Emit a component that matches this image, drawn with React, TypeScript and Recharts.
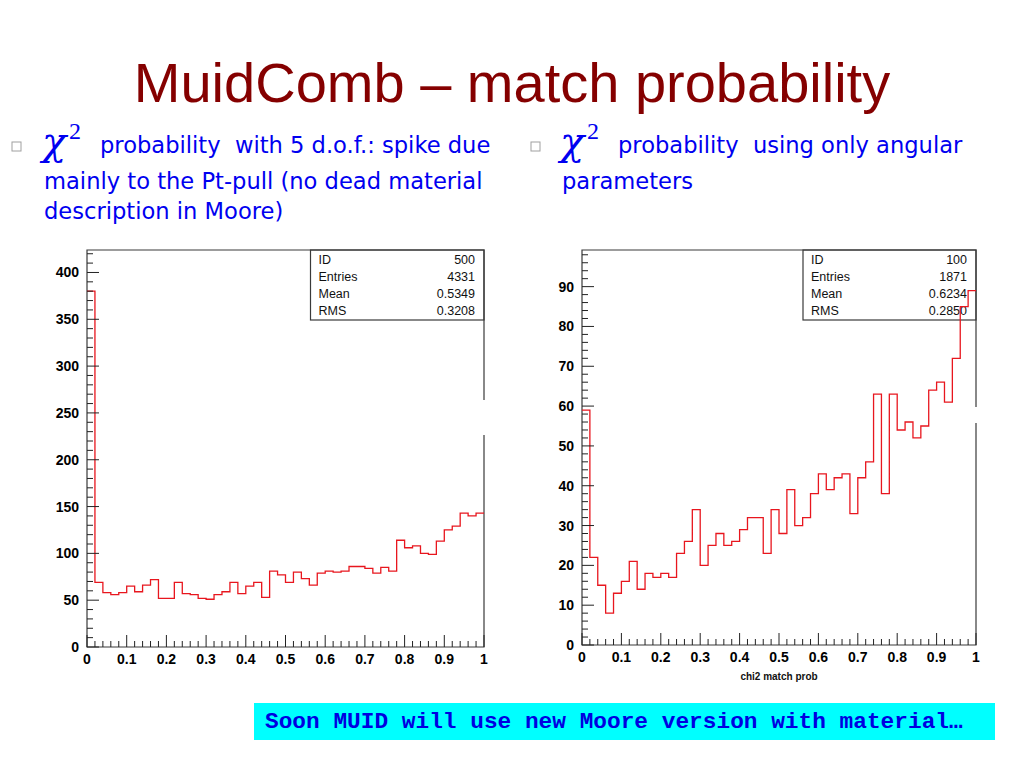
import React from 'react';
import { LineChart, Line, XAxis, YAxis, ReferenceArea } from 'recharts';

// 50 bins on [0, 1], counts
const leftCounts = [
  380, 69, 58, 56, 58, 65, 59, 66, 72, 52,
  52, 69, 57, 56, 52, 51, 56, 59, 69, 57,
  65, 69, 53, 81, 77, 69, 80, 73, 66, 79,
  81, 80, 81, 86, 86, 84, 79, 85, 81, 114,
  106, 108, 100, 99, 113, 125, 129, 143, 140, 143,
];
const rightCounts = [
  59, 22, 15, 8, 13, 16, 21, 14, 18, 17,
  18, 17, 23, 26, 34, 20, 25, 28, 25, 26,
  29, 32, 32, 23, 34, 28, 39, 30, 32, 38,
  43, 39, 42, 43, 33, 42, 46, 63, 38, 63,
  54, 56, 52, 55, 64, 66, 61, 72, 85, 89,
];

const xMajorTicks = [0, 0.1, 0.2, 0.3, 0.4, 0.5, 0.6, 0.7, 0.8, 0.9, 1];
const leftYMajor = [0, 50, 100, 150, 200, 250, 300, 350, 400];
const rightYMajor = [0, 10, 20, 30, 40, 50, 60, 70, 80, 90];

const leftStats = [
  ['ID', '500'],
  ['Entries', '4331'],
  ['Mean', '0.5349'],
  ['RMS', '0.3208'],
];
const rightStats = [
  ['ID', '100'],
  ['Entries', '1871'],
  ['Mean', '0.6234'],
  ['RMS', '0.2850'],
];

const RED = '#e8161e';
const FRAME = '#3a3a3a';
const AXIS_FONT = '"Liberation Sans", Arial, Helvetica, sans-serif';

const round = (v: number) => Math.round(v * 10000) / 10000;

// minor ticks: split every major interval into n parts, continue up to `top`
const withMinors = (majors: number[], n: number, top: number) => {
  const step = (majors[1] - majors[0]) / n;
  const out: number[] = [];
  for (let v = majors[0]; v <= top + 1e-9; v += step) out.push(round(v));
  return out;
};

const toSteps = (counts: number[]) => {
  const w = 1 / counts.length;
  const pts = counts.map((c, i) => ({ x: round(i * w), y: c }));
  pts.push({ x: 1, y: counts[counts.length - 1] });
  return pts;
};

const isMajor = (v: number, majors: number[]) => majors.some((m) => Math.abs(m - v) < 1e-6);

const XTick = (props: any) => {
  const { x, y, payload } = props;
  const v = round(payload.value);
  const major = isMajor(v, xMajorTicks);
  return (
    <g>
      <line x1={x} y1={y} x2={x} y2={y - (major ? 12 : 6)} stroke="#222" strokeWidth={1} />
      {major && (
        <text x={x} y={y + 17} textAnchor="middle" fontFamily={AXIS_FONT} fontWeight="bold" fontSize={14} fill="#000">
          {String(v)}
        </text>
      )}
    </g>
  );
};

const makeYTick = (majors: number[]) => (props: any) => {
  const { x, y, payload } = props;
  const v = round(payload.value);
  const major = isMajor(v, majors);
  return (
    <g>
      <line x1={x} y1={y} x2={x + (major ? 12 : 6)} y2={y} stroke="#222" strokeWidth={1} />
      {major && (
        <text x={x - 8} y={y + 5} textAnchor="end" fontFamily={AXIS_FONT} fontWeight="bold" fontSize={14} fill="#000">
          {String(v)}
        </text>
      )}
    </g>
  );
};

const Histo = ({ counts, yTop, yMajor, minorStep, width, height, plotW, bottom }: any) => {
  const data = toSteps(counts);
  const xTicks = withMinors(xMajorTicks, 5, 1);
  const yTicks = withMinors(yMajor, minorStep, yTop);
  return (
    <LineChart width={width} height={height} data={data} margin={{ top: 10, right: width - 57 - plotW, left: 12, bottom }}>
      <XAxis
        dataKey="x"
        type="number"
        domain={[0, 1]}
        ticks={xTicks}
        interval={0}
        tick={XTick}
        tickSize={0}
        tickMargin={0}
        axisLine={false}
        tickLine={false}
        height={30}
      />
      <YAxis
        type="number"
        domain={[0, yTop]}
        allowDataOverflow
        ticks={yTicks}
        interval={0}
        tick={makeYTick(yMajor)}
        tickSize={0}
        tickMargin={0}
        axisLine={false}
        tickLine={false}
        width={45}
      />
      <ReferenceArea x1={0} x2={1} y1={0} y2={yTop} fill="none" stroke={FRAME} strokeWidth={1.2} />
      <Line
        type="stepAfter"
        dataKey="y"
        stroke={RED}
        strokeWidth={1.3}
        dot={false}
        activeDot={false}
        isAnimationActive={false}
      />
    </LineChart>
  );
};

const StatBox = ({ x, y, w, rows }: { x: number; y: number; w: number; rows: string[][] }) => (
  <g fontFamily={AXIS_FONT} fontSize={12.5} fill="#111">
    <rect x={x} y={y} width={w} height={70} fill="#fff" stroke={FRAME} strokeWidth={1.2} />
    {rows.map((r, i) => (
      <g key={r[0]}>
        <text x={x + 8} y={y + 13.5 + i * 17.3}>{r[0]}</text>
        <text x={x + w - 9} y={y + 13.5 + i * 17.3} textAnchor="end">{r[1]}</text>
      </g>
    ))}
  </g>
);

const BULLET_FONT = '"DejaVu Sans", Verdana, Tahoma, sans-serif';
const BLUE = '#0000f0';

const Chi = ({ x, y }: { x: number; y: number }) => (
  <g fill={BLUE} fontFamily='"DejaVu Serif", "Liberation Serif", serif'>
    <text x={x - 2} y={y} fontSize={40} fontStyle="italic">χ</text>
    <text x={x + 25} y={y - 16} fontSize={24} fontFamily='"Liberation Serif", serif'>2</text>
  </g>
);

export default function App() {
  return (
    <div style={{ position: 'absolute', left: 0, top: 0, width: 1023, height: 767, background: '#fff', overflow: 'hidden' }}>
      <svg width={1023} height={767} style={{ position: 'absolute', left: 0, top: 0 }}>
        <text x={512} y={102} textAnchor="middle" fontFamily={AXIS_FONT} fontSize={56} fill="#850000">
          MuidComb – match probability
        </text>

        <rect x={12} y={142} width={9} height={9} fill="none" stroke="#a0a0a0" strokeWidth={1} />
        <Chi x={44} y={155} />
        <g fontFamily={BULLET_FONT} fontSize={22.6} fill={BLUE}>
          <text x={100} y={153} style={{ whiteSpace: 'pre' }}>{'probability  with 5 d.o.f.: spike due'}</text>
          <text x={44} y={189}>mainly to the Pt-pull (no dead material</text>
          <text x={44} y={219}>description in Moore)</text>
        </g>

        <rect x={531} y={142} width={9} height={9} fill="none" stroke="#a0a0a0" strokeWidth={1} />
        <Chi x={562} y={155} />
        <g fontFamily={BULLET_FONT} fontSize={22.6} fill={BLUE}>
          <text x={618} y={153} style={{ whiteSpace: 'pre' }}>{'probability  using only angular'}</text>
          <text x={562} y={189}>parameters</text>
        </g>

        <StatBox x={310.5} y={250} w={173.5} rows={leftStats} />
        <StatBox x={803} y={250} w={173} rows={rightStats} />

        <text x={779} y={680} textAnchor="middle" fontFamily={AXIS_FONT} fontWeight="bold" fontSize={10} fill="#111">
          chi2 match prob
        </text>

        <rect x={254} y={703} width={741} height={37} fill="#00ffff" />
        <text x={265} y={728} fontFamily='"Liberation Mono", "Courier New", monospace' fontWeight="bold" fontSize={22.8} fill="#0000e0">
          Soon MUID will use new Moore version with material…
        </text>
      </svg>

      <div style={{ position: 'absolute', left: 30, top: 240 }}>
        <Histo counts={leftCounts} yTop={424} yMajor={leftYMajor} minorStep={5} width={459} height={442} plotW={397} bottom={5} />
      </div>
      <div style={{ position: 'absolute', left: 525, top: 240 }}>
        <Histo counts={rightCounts} yTop={99.2} yMajor={rightYMajor} minorStep={5} width={460} height={450} plotW={394} bottom={15} />
      </div>

      {/* small breaks in the right frame edge, as in the scan */}
      <div style={{ position: 'absolute', left: 482, top: 400, width: 5, height: 35, background: '#fff' }} />
      <div style={{ position: 'absolute', left: 973, top: 407, width: 5, height: 16, background: '#fff' }} />
    </div>
  );
}
